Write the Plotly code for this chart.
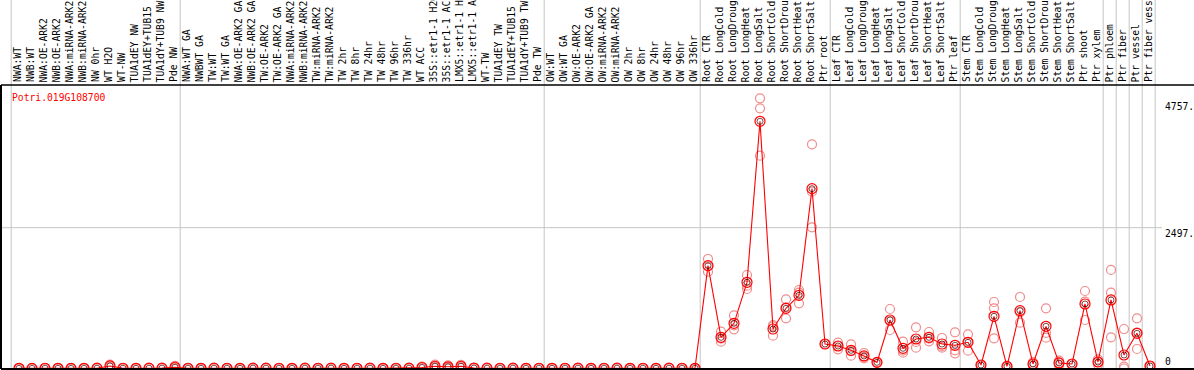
import plotly.graph_objects as go

samples = [
    "NWA:WT", "NWB:WT", "NWA:OE-ARK2", "NWB:OE-ARK2", "NWA:miRNA-ARK2", "NWB:miRNA-ARK2",
    "NW 0hr", "WT H2O", "WT-NW", "TUA1dEY NW", "TUA1dEY+TUB15 NW", "TUA1dY+TUB9 NW", "Pde NW",
    "NWA:WT GA", "NWBWT GA", "TW:WT", "TW:WT GA", "NWA:OE-ARK2 GA", "NWB:OE-ARK2 GA",
    "TW:OE-ARK2", "TW:OE-ARK2 GA", "NWA:miRNA-ARK2", "NWB:miRNA-ARK2", "TW:miRNA-ARK2",
    "TW:miRNA-ARK2", "TW 2hr", "TW 8hr", "TW 24hr", "TW 48hr", "TW 96hr", "TW 336hr",
    "WT ACC", "35S::etr1-1 H2O", "35S::etr1-1 ACC", "LMX5::etr1-1 H2O", "LMX5::etr1-1 ACC",
    "WT-TW", "TUA1dEY TW", "TUA1dEY+TUB15 TW", "TUA1dY+TUB9 TW", "Pde TW",
    "OW:WT", "OW:WT GA", "OW:OE-ARK2", "OW:OE-ARK2 GA", "OW:miRNA-ARK2", "OW:miRNA-ARK2",
    "OW 2hr", "OW 8hr", "OW 24hr", "OW 48hr", "OW 96hr", "OW 336hr",
    "Root CTR", "Root LongCold", "Root LongDrought", "Root LongHeat", "Root LongSalt",
    "Root ShortCold", "Root ShortDrought", "Root ShortHeat", "Root ShortSalt", "Ptr root",
    "Leaf CTR", "Leaf LongCold", "Leaf LongDrought", "Leaf LongHeat", "Leaf LongSalt",
    "Leaf ShortCold", "Leaf ShortDrought", "Leaf ShortHeat", "Leaf ShortSalt", "Ptr leaf",
    "Stem CTR", "Stem LongCold", "Stem LongDrought", "Stem LongHeat", "Stem LongSalt",
    "Stem ShortCold", "Stem ShortDrought", "Stem ShortHeat", "Stem ShortSalt",
    "Ptr shoot", "Ptr xylem", "Ptr phloem", "Ptr fiber", "Ptr vessel", "Ptr fiber vessel",
]

mean_values = [
    3, 2, 4, 3, 2, 3, 5, 45, 4, 3, 5, 6, 22,
    4, 3, 5, 4, 3, 6, 5, 4, 3, 5, 4, 6, 3, 4, 5, 3, 4, 5,
    18, 40, 30, 40, 8, 5, 4, 6, 3, 4,
    3, 4, 5, 3, 4, 5, 3, 4, 3, 5, 4, 3,
    1824, 553, 801, 1528, 4383, 700, 1067, 1298, 3189, 434,
    399, 322, 222, 109, 860, 358, 523, 553, 434, 411,
    464, 62, 925, 38, 1026, 80, 748, 98, 80, 1144, 115,
    1215, 239, 624, 44,
]

rep1 = [
    5, 4, 6, 5, 4, 5, 7, 70, 6, 5, 7, 9, 45,
    6, 5, 7, 6, 5, 8, 7, 6, 5, 7, 6, 8, 5, 6, 7, 5, 6, 7,
    35, 70, 55, 65, 12, 7, 6, 8, 5, 6,
    5, 6, 7, 5, 6, 7, 5, 6, 5, 7, 6, 5,
    1942, 653, 943, 1658, 4791, 771, 1227, 1392, 3975, 434,
    458, 429, 275, 109, 1055, 476, 730, 647, 541, 641,
    606, 62, 1179, 38, 1268, 115, 1067, 138, 80, 1374, 163,
    1747, 700, 890, 44,
]

rep2 = [
    2, 1, 3, 2, 1, 2, 4, 40, 3, 2, 4, 5, 15,
    3, 2, 4, 3, 2, 5, 4, 3, 2, 4, 3, 5, 2, 3, 4, 2, 3, 4,
    12, 30, 25, 35, 7, 4, 3, 5, 2, 3,
    2, 3, 4, 2, 3, 4, 2, 3, 2, 4, 3, 2,
    1717, 476, 695, 1410, 4614, 582, 890, 1156, 3136, 434,
    340, 228, 180, 109, 683, 281, 369, 482, 369, 269,
    316, 62, 1067, 38, 813, 44, 547, 98, 80, 1185, 115,
    1345, 32, 346, 44,
]

rep3 = [
    2, 1, 3, 2, 1, 2, 4, 25, 3, 2, 4, 4, 6,
    3, 2, 4, 3, 2, 5, 4, 3, 2, 4, 3, 5, 2, 3, 4, 2, 3, 4,
    7, 20, 10, 20, 5, 4, 3, 5, 2, 3,
    2, 3, 4, 2, 3, 4, 2, 3, 2, 4, 3, 2,
    1813, 530, 765, 1469, 3774, 747, 1084, 1346, 2503, 434,
    399, 309, 211, 109, 842, 317, 470, 530, 392, 323,
    470, 62, 535, 38, 997, 80, 630, 58, 80, 860, 67,
    553, 0, 636, 44,
]

gene_id = "Potri.019G108700"
y_tick_values = [4757, 2497, 0]
y_tick_labels = ["4757.", "2497.", "0"]
group_last_index = [-1, 12, 40, 52, 62, 72, 83, 84, 85, 86, 87]

W, H = 1194, 370
ML, MR, MT, MB = 1, 0, 85, 1
x_idx = list(range(len(samples)))

fig = go.Figure()

rep_x = x_idx * 3
rep_y = rep1 + rep2 + rep3
fig.add_trace(go.Scatter(
    x=rep_x, y=rep_y, mode="markers",
    marker=dict(symbol="circle-open", size=9, color="#f08c8c", line=dict(width=1.2)),
    hoverinfo="skip", showlegend=False,
))
fig.add_trace(go.Scatter(
    x=x_idx, y=mean_values, mode="lines+markers",
    line=dict(color="#ff0000", width=1.1),
    marker=dict(symbol="circle-open", size=10, color="#ff0000", line=dict(width=1.2)),
    text=samples, showlegend=False,
))
fig.add_trace(go.Scatter(
    x=x_idx, y=mean_values, mode="markers",
    marker=dict(symbol="circle-open", size=6, color="#400000", line=dict(width=0.7)),
    hoverinfo="skip", showlegend=False,
))

shapes = []
plot_h = H - MT - MB
top_ext = 1 + MT / plot_h
for g in group_last_index:
    shapes.append(dict(type="line", xref="x", yref="paper", x0=g + 0.4, x1=g + 0.4,
                       y0=0, y1=top_ext, line=dict(color="#c4c4c4", width=1), layer="below"))
shapes.append(dict(type="line", xref="paper", yref="y", x0=0, x1=(1162 - ML) / (W - ML - MR),
                   y0=y_tick_values[1], y1=y_tick_values[1],
                   line=dict(color="#c4c4c4", width=1), layer="below"))
# borders
shapes.append(dict(type="line", xref="paper", yref="paper", x0=0, x1=1, y0=1, y1=1,
                   line=dict(color="black", width=1.5)))
shapes.append(dict(type="line", xref="paper", yref="paper", x0=0, x1=1, y0=0, y1=0,
                   line=dict(color="black", width=2)))
shapes.append(dict(type="line", xref="paper", yref="paper", x0=0, x1=0, y0=0, y1=1,
                   line=dict(color="black", width=2)))

mono = "DejaVu Sans Mono"
annotations = []
for i, s in enumerate(samples):
    annotations.append(dict(x=i - 0.12, y=1, xref="x", yref="paper", text=s, showarrow=False,
                            textangle=-90, xanchor="center", yanchor="bottom", yshift=1,
                            font=dict(family=mono, size=9.7, color="black")))
annotations.append(dict(x=(10 - ML) / (W - ML - MR), y=1, xref="paper", yref="paper",
                        text=gene_id, showarrow=False, xanchor="left", yanchor="middle",
                        yshift=-12, font=dict(family=mono, size=9.7, color="#ff0000")))
for v, lab in zip(y_tick_values, y_tick_labels):
    annotations.append(dict(x=(1163 - ML) / (W - ML - MR), y=v, xref="paper", yref="y",
                            text=lab, showarrow=False, xanchor="left", yanchor="middle",
                            yshift=(7 if v == 0 else -6),
                            font=dict(family=mono, size=9.7, color="black")))

fig.update_layout(
    width=W, height=H,
    margin=dict(l=ML, r=MR, t=MT, b=MB, pad=0),
    paper_bgcolor="white", plot_bgcolor="white",
    xaxis=dict(range=[(1 - 19) / 13, (1194 - 19) / 13], showgrid=False, zeroline=False,
               showticklabels=False, ticks="", showline=False),
    yaxis=dict(range=[-9, 5027], showgrid=False, zeroline=False, showticklabels=False,
               ticks="", showline=False),
    shapes=shapes, annotations=annotations,
    hovermode="closest",
)

fig.write_html(
    "out.html",
    config={"displayModeBar": False},
    post_script="document.body.style.margin='0';document.body.style.padding='0';"
                "document.body.style.overflow='hidden';",
)
